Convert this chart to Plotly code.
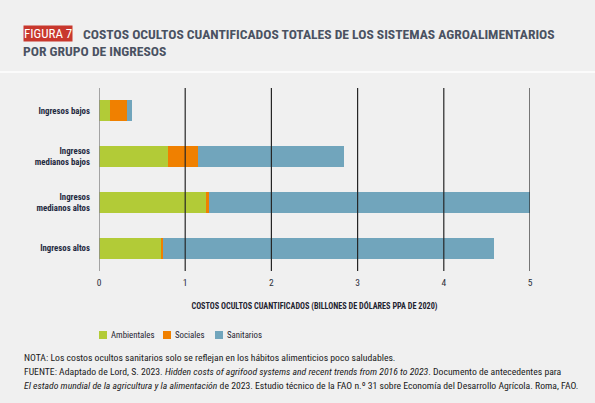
import plotly.graph_objects as go

# --- datos (billones de dólares PPA de 2020) ---
groups = ["Ingresos bajos", "Ingresos<br>medianos bajos", "Ingresos<br>medianos altos", "Ingresos altos"]
ambientales = [0.13, 0.80, 1.24, 0.73]
sociales = [0.20, 0.35, 0.04, 0.015]
sanitarios = [0.05, 1.69, 3.72, 3.84]
x_ticks = [0, 1, 2, 3, 4, 5]

series = [
    ("Ambientales", ambientales, "#b2cb37"),
    ("Sociales", sociales, "#f08000"),
    ("Sanitarios", sanitarios, "#71a5bc"),
]

W, H = 595, 403
L, R, T, B = 99, 530, 88, 271
BG = "#f0f0f0"
FONT = "Roboto Condensed, Roboto, Liberation Sans, sans-serif"


def px_x(p):
    return (p - L) / (R - L)


def px_y(p):
    return (B - p) / (B - T)


fig = go.Figure()
for name, vals, color in series:
    fig.add_trace(go.Bar(
        y=groups, x=vals, name=name, orientation="h",
        marker=dict(color=color, line=dict(width=0)),
        width=0.46, showlegend=False,
    ))

# lineas de referencia por encima de las barras
for t in x_ticks:
    fig.add_vline(x=t, line=dict(color="#8a8a8a" if t == 0 else "#262626", width=1.5 if t == 0 else 1.2),
                  layer="above")

fig.update_layout(
    width=W, height=H,
    margin=dict(l=L, r=W - R, t=T, b=H - B),
    paper_bgcolor=BG, plot_bgcolor=BG,
    barmode="stack",
    font=dict(family=FONT, color="#2b2f3a"),
)
fig.update_xaxes(
    range=[0, 5], tickvals=x_ticks, showgrid=False, zeroline=False,
    ticks="outside", ticklen=0, ticklabelstandoff=3,
    tickfont=dict(size=9.5, family=FONT, color="#2b2f3a"),
    title=dict(text="<b>COSTOS OCULTOS CUANTIFICADOS (BILLONES DE DÓLARES PPA DE 2020)</b>",
               font=dict(size=8.2, family=FONT, color="#1f2430"), standoff=15),
    tickprefix="<b>", ticksuffix="</b>",
)
fig.update_yaxes(
    autorange="reversed", showgrid=False, zeroline=False,
    tickfont=dict(size=8.8, family=FONT, color="#1f2a40"),
    tickprefix="<b>", ticksuffix="</b>", ticklabelstandoff=8,
)

# cabecera
fig.add_annotation(xref="paper", yref="paper", x=px_x(23), y=px_y(34), xanchor="left", yanchor="middle",
                   text="FIGURA 7", showarrow=False, bgcolor="#c8372d", borderpad=0,
                   font=dict(size=13, family=FONT, color="white"))
fig.add_annotation(xref="paper", yref="paper", x=px_x(81), y=px_y(34), xanchor="left", yanchor="middle",
                   text="<b>COSTOS OCULTOS CUANTIFICADOS TOTALES DE LOS SISTEMAS AGROALIMENTARIOS</b>",
                   showarrow=False, font=dict(size=13.6, family=FONT, color="#4a5262"))
fig.add_annotation(xref="paper", yref="paper", x=px_x(21), y=px_y(51), xanchor="left", yanchor="middle",
                   text="<b>POR GRUPO DE INGRESOS</b>",
                   showarrow=False, font=dict(size=13.6, family=FONT, color="#4a5262"))
fig.add_shape(type="line", xref="paper", yref="paper", x0=px_x(0), x1=px_x(W), y0=px_y(72), y1=px_y(72),
              line=dict(color="white", width=1.5))

# leyenda manual
leg_x = [99, 163, 215]
for (name, vals, color), lx in zip(series, leg_x):
    fig.add_shape(type="rect", xref="paper", yref="paper",
                  x0=px_x(lx), x1=px_x(lx + 8), y0=px_y(339), y1=px_y(331),
                  fillcolor=color, line=dict(width=0))
    fig.add_annotation(xref="paper", yref="paper", x=px_x(lx + 10), y=px_y(335), xanchor="left",
                       yanchor="middle", text=name, showarrow=False,
                       font=dict(size=8.8, family=FONT, color="#1f2430"))

# notas
notes = [
    "NOTA: Los costos ocultos sanitarios solo se reflejan en los hábitos alimenticios poco saludables.",
    "FUENTE: Adaptado de Lord, S. 2023. <i>Hidden costs of agrifood systems and recent trends from 2016 to 2023</i>. "
    "Documento de antecedentes para",
    "<i>El estado mundial de la agricultura y la alimentación</i> de 2023. Estudio técnico de la FAO n.º 31 "
    "sobre Economía del Desarrollo Agrícola. Roma, FAO.",
]
for i, line in enumerate(notes):
    fig.add_annotation(xref="paper", yref="paper", x=px_x(22), y=px_y(357 + 14 * i), xanchor="left",
                       yanchor="middle", text=line, showarrow=False,
                       font=dict(size=9.7, family=FONT, color="#1a1a1a"))

fig.write_html(
    "out.html",
    config={"displayModeBar": False},
    post_script="document.body.style.margin='0';document.body.style.overflow='hidden';",
)
